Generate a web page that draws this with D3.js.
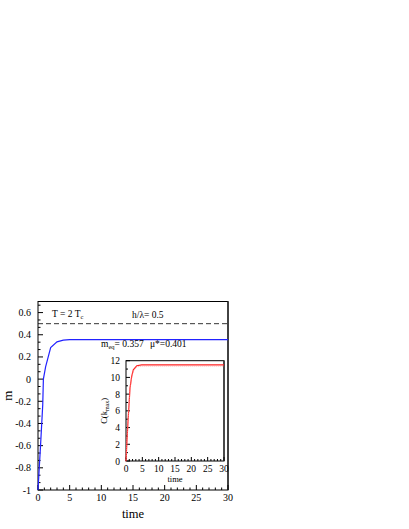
<!DOCTYPE html>
<html>
<head>
<meta charset="utf-8">
<script src="https://cdn.jsdelivr.net/npm/d3@7"></script>
<style>
  body { margin: 0; background: #fff; }
  svg { display: block; font-family: "Liberation Serif", "DejaVu Serif", serif; }
</style>
</head>
<body>
<script>
// main curve: magnetisation m vs time
const mTime = [0, 0.4, 0.75, 0.85, 1.2, 2, 3, 4, 5, 10, 20, 30];
const mValue = [-1, -0.6, -0.23, 0, 0.11, 0.285, 0.336, 0.352, 0.357, 0.357, 0.357, 0.357];
const fieldLevel = 0.5;

// inset: C(k_max) vs time
const cTime = [0, 0.3, 0.61, 1.22, 1.73, 2.24, 3.3, 4.8, 10, 20, 30];
const cValue = [0, 2.5, 4.7, 8.7, 10.1, 10.9, 11.4, 11.5, 11.5, 11.5, 11.5];

const xTicks = [0, 5, 10, 15, 20, 25, 30];
const yTicks = [-1, -0.8, -0.6, -0.4, -0.2, 0, 0.2, 0.4, 0.6];
const yTickLabels = ['-1', '-0.8', '-0.6', '-0.4', '-0.2', '0', '0.2', '0.4', '0.6'];
const insetXTicks = [0, 5, 10, 15, 20, 25, 30];
const insetYTicks = [0, 2, 4, 6, 8, 10, 12];

const width = 409, height = 529;
const svg = d3.select('body').append('svg')
  .attr('width', width).attr('height', height)
  .attr('viewBox', [0, 0, width, height]);

// main scales
const x = d3.scaleLinear().domain([0, 30]).range([38, 228]);
const y = d3.scaleLinear().domain([-1, 0.7]).range([490, 301.5]);

function drawTicks(g, scale, majors, minorStep, orient, majorLen, minorLen, other) {
  const [d0, d1] = scale.domain();
  const minors = d3.range(d0, d1 + 1e-9, minorStep)
    .filter(v => !majors.some(m => Math.abs(m - v) < 1e-6));
  const all = majors.map(v => [v, majorLen]).concat(minors.map(v => [v, minorLen]));
  all.forEach(([v, len]) => {
    const p = scale(v);
    if (orient === 'bottom') {
      g.append('line').attr('x1', p).attr('x2', p).attr('y1', other).attr('y2', other - len);
    } else {
      g.append('line').attr('y1', p).attr('y2', p).attr('x1', other).attr('x2', other + len);
    }
  });
}

// main frame
const mainG = svg.append('g');
mainG.append('rect')
  .attr('x', x(0)).attr('y', y(0.7))
  .attr('width', x(30) - x(0)).attr('height', y(-1) - y(0.7))
  .attr('fill', 'none').attr('stroke', '#000').attr('stroke-width', 1);
mainG.append('line')
  .attr('x1', x(30)).attr('x2', x(30)).attr('y1', y(0.7)).attr('y2', y(-1))
  .attr('stroke', '#333').attr('stroke-width', 1.6);

const tickG = mainG.append('g').attr('stroke', '#000').attr('stroke-width', 1);
drawTicks(tickG, x, xTicks, 1, 'bottom', 5, 2.5, y(-1));
drawTicks(tickG, y, yTicks, 0.2 / 3, 'left', 5, 2.5, x(0));

mainG.append('g').attr('font-size', 10).attr('text-anchor', 'middle')
  .selectAll('text').data(xTicks).join('text')
  .attr('x', d => x(d)).attr('y', y(-1) + 11)
  .text(d => d);

mainG.append('g').attr('font-size', 10).attr('text-anchor', 'end')
  .selectAll('text').data(yTicks).join('text')
  .attr('x', x(0) - 7).attr('y', d => y(d) + 3.5)
  .text((d, i) => yTickLabels[i]);

mainG.append('text').attr('x', 133).attr('y', 518)
  .attr('text-anchor', 'middle').attr('font-size', 12.5).text('time');
mainG.append('text')
  .attr('transform', `translate(12 ${y(-0.15)}) rotate(-90)`)
  .attr('text-anchor', 'middle').attr('font-size', 13).text('m');

// dashed field line
mainG.append('line')
  .attr('x1', x(0)).attr('x2', x(30))
  .attr('y1', y(fieldLevel)).attr('y2', y(fieldLevel))
  .attr('stroke', '#000').attr('stroke-width', 0.8)
  .attr('stroke-dasharray', '5 3');

// blue curve
const mLine = d3.line().x(d => x(d[0])).y(d => y(d[1]));
mainG.append('path')
  .datum(mTime.map((t, i) => [t, mValue[i]]))
  .attr('fill', 'none').attr('stroke', '#2222ff').attr('stroke-width', 1.2)
  .attr('d', mLine);

// annotations
const ann = mainG.append('g').attr('font-size', 9.5);
const t1 = ann.append('text').attr('x', 52).attr('y', 317);
t1.append('tspan').text('T = 2 T');
t1.append('tspan').attr('font-size', 6.5).attr('dy', 2).text('c');
ann.append('text').attr('x', 132).attr('y', 318).text('h/λ= 0.5');
const t2 = ann.append('text').attr('x', 101).attr('y', 347);
t2.append('tspan').text('m');
t2.append('tspan').attr('font-size', 6.5).attr('dy', 2).text('eq');
t2.append('tspan').attr('dy', -2).text('= 0.357');
ann.append('text').attr('x', 150).attr('y', 347).text('μ*=0.401');

// inset
const ix = d3.scaleLinear().domain([0, 30]).range([126, 224]);
const iy = d3.scaleLinear().domain([0, 12]).range([461, 360.7]);
const inset = svg.append('g');
inset.append('rect')
  .attr('x', ix(0)).attr('y', iy(12))
  .attr('width', ix(30) - ix(0)).attr('height', iy(0) - iy(12))
  .attr('fill', '#fff').attr('stroke', '#000').attr('stroke-width', 1);
inset.append('line')
  .attr('x1', ix(30)).attr('x2', ix(30)).attr('y1', iy(12)).attr('y2', iy(0))
  .attr('stroke', '#444').attr('stroke-width', 1.8);

const iTickG = inset.append('g').attr('stroke', '#000').attr('stroke-width', 1);
drawTicks(iTickG, ix, insetXTicks, 1, 'bottom', 4, 2, iy(0));
drawTicks(iTickG, iy, insetYTicks, 1, 'left', 4, 2, ix(0));

inset.append('g').attr('font-size', 9.5).attr('text-anchor', 'middle')
  .selectAll('text').data(insetXTicks).join('text')
  .attr('x', d => ix(d)).attr('y', iy(0) + 11)
  .text(d => d);
inset.append('g').attr('font-size', 9.5).attr('text-anchor', 'end')
  .selectAll('text').data(insetYTicks).join('text')
  .attr('x', ix(0) - 6).attr('y', d => iy(d) + 3.5)
  .text(d => d);

inset.append('text').attr('x', ix(15)).attr('y', iy(0) + 21)
  .attr('text-anchor', 'middle').attr('font-size', 8.5).text('time');
const cl = inset.append('text')
  .attr('transform', `translate(107 ${iy(6)}) rotate(-90)`)
  .attr('text-anchor', 'middle').attr('font-size', 8.5);
cl.append('tspan').text('C(k');
cl.append('tspan').attr('font-size', 6).attr('dy', 2).text('max');
cl.append('tspan').attr('dy', -2).text(')');

const cLine = d3.line().x(d => ix(d[0])).y(d => iy(d[1]));
const cData = cTime.map((t, i) => [t, cValue[i]]);
inset.append('path')
  .datum(cData)
  .attr('fill', 'none').attr('stroke', '#ff2020').attr('stroke-width', 1.2)
  .attr('d', cLine);
inset.append('path')
  .datum(cData)
  .attr('fill', 'none').attr('stroke', '#ff9090').attr('stroke-width', 0.8)
  .attr('stroke-dasharray', '1 1')
  .attr('transform', 'translate(0 1.2)')
  .attr('d', cLine);
</script>
</body>
</html>
